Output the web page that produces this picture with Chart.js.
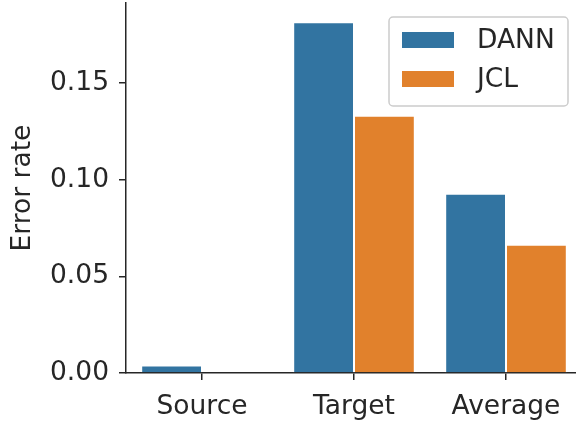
<!DOCTYPE html>
<html>
<head>
<meta charset="utf-8">
<script src="https://cdn.jsdelivr.net/npm/chart.js@4"></script>
<style>
  html, body { margin: 0; padding: 0; overflow: hidden; background: #fff; }
  #wrap { width: 576px; height: 424px; overflow: hidden; }
</style>
</head>
<body>
<div id="wrap"><canvas id="chart" width="582" height="424"></canvas></div>
<script>
const categories = ["Source", "Target", "Average"];
const dannValues = [0.0039, 0.1815, 0.0928];
const jclValues = [0.0, 0.1331, 0.0664];
const yTicks = [0.0, 0.05, 0.1, 0.15];

const ink = "#262626";
const font = { family: "DejaVu Sans", size: 26.5 };

// seaborn-style legend box inside the axes
const insideLegend = {
  id: "insideLegend",
  afterDraw(chart) {
    const ctx = chart.ctx;
    const x = 389, y = 17, w = 179, h = 89;
    ctx.save();
    ctx.beginPath();
    ctx.roundRect(x, y, w, h, 4);
    ctx.fillStyle = "rgba(255,255,255,0.8)";
    ctx.fill();
    ctx.lineWidth = 1.5;
    ctx.strokeStyle = "#cccccc";
    ctx.stroke();
    ctx.font = "26.5px 'DejaVu Sans'";
    ctx.textBaseline = "middle";
    chart.data.datasets.forEach((ds, i) => {
      const cy = 40 + i * 39;
      ctx.fillStyle = ds.backgroundColor;
      ctx.fillRect(402, cy - 8, 52, 16);
      ctx.fillStyle = ink;
      ctx.fillText(ds.label, 477, cy + 1);
    });
    ctx.restore();
  },
};

new Chart(document.getElementById("chart"), {
  type: "bar",
  data: {
    labels: categories,
    datasets: [
      { label: "DANN", data: dannValues, backgroundColor: "#3274a1", borderColor: "#ffffff", borderWidth: 1 },
      { label: "JCL", data: jclValues, backgroundColor: "#e1812c", borderColor: "#ffffff", borderWidth: 1 },
    ],
  },
  options: {
    responsive: false,
    animation: false,
    layout: { padding: { top: 3, right: 0, left: 0, bottom: 0 } },
    datasets: { bar: { barPercentage: 1.0, categoryPercentage: 0.8 } },
    plugins: { legend: { display: false }, tooltip: { enabled: false } },
    scales: {
      x: {
        grid: { offset: false, drawOnChartArea: false, drawTicks: true, tickLength: 7, color: ink, lineWidth: 1.5 },
        border: { color: ink, width: 1.5 },
        ticks: { color: ink, font: font, padding: 11 },
        afterFit(scale) {
          scale.height = 51;
          scale.paddingLeft = 0;
          scale.paddingRight = 0;
        },
      },
      y: {
        min: 0,
        max: 0.1915,
        grid: { drawOnChartArea: false, drawTicks: true, tickLength: 7, color: ink, lineWidth: 1.5 },
        border: { color: ink, width: 1.5 },
        ticks: {
          color: ink,
          font: font,
          padding: 10,
          stepSize: 0.05,
          includeBounds: false,
          callback: (v) => (yTicks.some((t) => Math.abs(t - v) < 1e-9) ? v.toFixed(2) : ""),
        },
        title: { display: true, text: "Error rate", color: ink, font: font, padding: { top: 7, bottom: 0 } },
        afterFit(scale) {
          scale.width = 126;
          scale.paddingTop = 0;
          scale.paddingBottom = 0;
        },
      },
    },
  },
  plugins: [insideLegend],
});
</script>
</body>
</html>
